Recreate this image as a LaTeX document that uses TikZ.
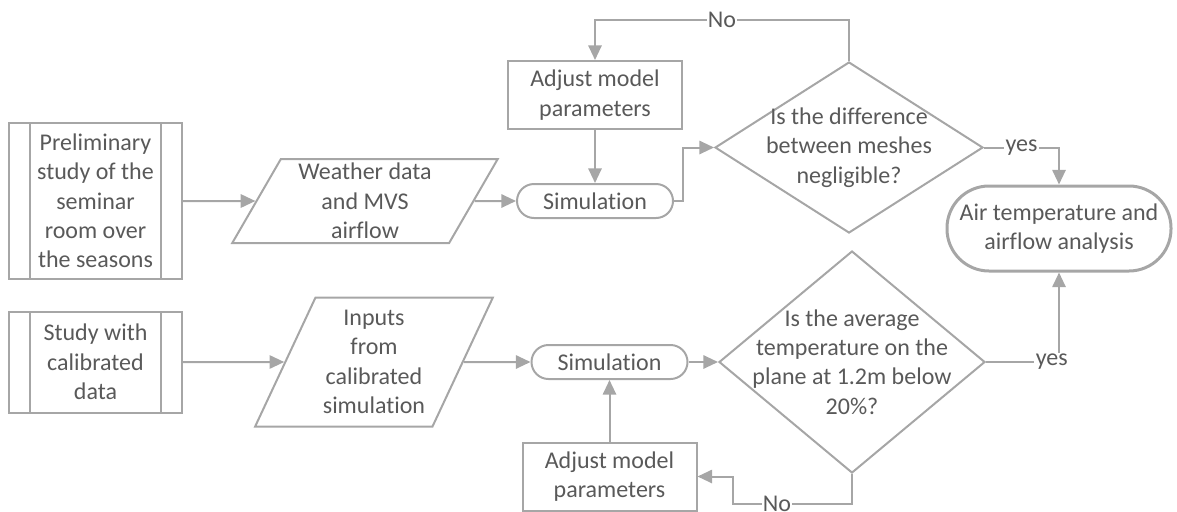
\documentclass[tikz,border=0pt]{standalone}
\usepackage{fontspec}
\setmainfont{Carlito}[Ligatures=NoCommon]
\usepackage{xcolor}
\usetikzlibrary{arrows.meta,shapes.geometric}
\definecolor{linegray}{HTML}{A6A6A6}
\definecolor{textgray}{HTML}{595959}

\begin{document}
\begin{tikzpicture}[
  x=0.75pt, y=-0.75pt,
  every node/.style={text=textgray, font=\fontsize{18}{22}\selectfont},
  study/.style={draw=linegray, line width=1.5pt, minimum width=129.75pt, align=center, inner sep=0pt,
    path picture={\draw[linegray, line width=1.5pt]
      ([xshift=15.75pt]path picture bounding box.north west) -- ([xshift=15.75pt]path picture bounding box.south west)
      ([xshift=-15.75pt]path picture bounding box.north east) -- ([xshift=-15.75pt]path picture bounding box.south east);}},
  data/.style={trapezium, trapezium left angle=63, trapezium right angle=117, trapezium stretches=true,
    draw=linegray, line width=1.5pt, align=center, inner sep=0pt},
  sim/.style={draw=linegray, line width=1.5pt, rounded corners=12.75pt, minimum width=117pt, minimum height=25.5pt, inner sep=0pt},
  adjust/.style={draw=linegray, line width=1.5pt, minimum width=130.5pt, minimum height=51pt, align=center, inner sep=0pt},
  decision/.style={diamond, draw=linegray, line width=1.5pt, inner sep=0pt},
  result/.style={draw=linegray, line width=2.25pt, rounded corners=31.5pt, minimum width=168pt, minimum height=63.75pt, align=center},
  arrow/.style={draw=linegray, line width=1.5pt, -{Triangle[length=11pt,width=10pt]}},
  tag/.style={fill=white, inner sep=1pt}
]
\useasboundingbox (0,0) rectangle (1177,511);
\node[study, minimum height=117pt] (prelim) at (95.5,201) {Preliminary\\study of the\\seminar\\room over\\the seasons};
\node[study, minimum height=75.75pt] (calib) at (95.5,362) {Study with\\calibrated\\data};
\node[data, minimum width=199.5pt, minimum height=63pt] (weather) at (365,201) {Weather data\\and MVS\\airflow};
\node[data, minimum width=178.5pt, minimum height=96.75pt] (inputs) at (374,362) {Inputs\\from\\calibrated\\simulation};
\node[sim] (sim1) at (595,201) {Simulation};
\node[adjust] (adj1) at (595,95) {Adjust model\\parameters};
\node[decision, minimum width=201pt, minimum height=128.25pt,
  label={[align=center]center:Is the difference\\between meshes\\negligible?}] (mesh) at (849,147.5) {};
\node[result] (result) at (1059,228.5) {Air temperature and\\airflow analysis};
\node[sim] (sim2) at (609.5,362) {Simulation};
\node[adjust] (adj2) at (609.5,476.5) {Adjust model\\parameters};
\node[decision, minimum width=199.5pt, minimum height=166.5pt,
  label={[align=center]center:Is the average\\temperature on the\\plane at 1.2m below\\20\%?}] (temp) at (852,362) {};
\foreach \a/\b in {prelim/weather,weather/sim1,adj1/sim1,calib/inputs,inputs/sim2,sim2/temp,adj2/sim2}
  \draw[arrow] (\a) -- (\b);
\draw[arrow] (sim1.east) -- ++(9,0) |- (mesh.west);
\draw[arrow] (mesh.north) -- ++(0,-41) -| node[tag, pos=0.25]{No} (adj1.north);
\draw[arrow] (mesh.east) -| node[tag, pos=0.25]{yes} (result.north);
\draw[arrow] (temp.south) -- ++(0,30) -- node[tag, pos=0.63]{No} ++(-119,0) |- (adj2.east);
\draw[arrow] (temp.east) -| node[tag, pos=0.45]{yes} (result.south);
\end{tikzpicture}
\end{document}
